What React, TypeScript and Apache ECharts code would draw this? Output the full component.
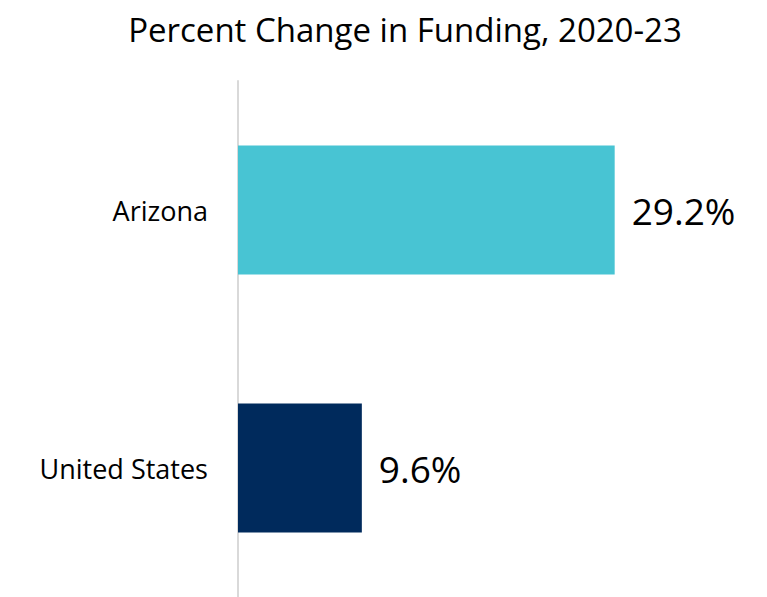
import React, { useEffect, useRef } from "react";
import * as echarts from "echarts";

const categories = ["Arizona", "United States"];
const values = [29.2, 9.6];
const colors = ["#48C4D3", "#002A5C"];
const titleText = "Percent Change in Funding, 2020-23";

export default function App() {
  const ref = useRef<HTMLDivElement>(null);
  useEffect(() => {
    document.body.style.margin = "0";
    const chart = echarts.init(ref.current!, null, { renderer: "svg" });
    const font = "'Open Sans', 'Noto Sans', sans-serif";
    chart.setOption({
      animation: false,
      backgroundColor: "#ffffff",
      title: {
        text: titleText,
        left: 400,
        textAlign: "center",
        top: 8,
        textStyle: { fontFamily: font, fontSize: 33, fontWeight: "normal", color: "#000" },
      },
      grid: { left: 238, top: 81, width: 516, height: 523, containLabel: false },
      xAxis: {
        type: "value",
        min: 0,
        max: 40,
        show: false,
      },
      yAxis: {
        type: "category",
        data: categories,
        inverse: true,
        axisLine: { show: true, lineStyle: { color: "#D9D9D9", width: 2 } },
        axisTick: { show: false },
        axisLabel: { fontFamily: font, fontSize: 27, color: "#000", margin: 30 },
        splitLine: { show: false },
      },
      series: [
        {
          type: "bar",
          barWidth: "50%",
          data: values.map((v, i) => ({ value: v, itemStyle: { color: colors[i] } })),
          label: {
            show: true,
            position: "right",
            distance: 17,
            fontFamily: font,
            fontSize: 37,
            color: "#000",
            formatter: (p: any) => p.value.toFixed(1) + "%",
          },
        },
      ],
    });
    return () => chart.dispose();
  }, []);
  return <div ref={ref} style={{ width: 767, height: 597 }} />;
}
